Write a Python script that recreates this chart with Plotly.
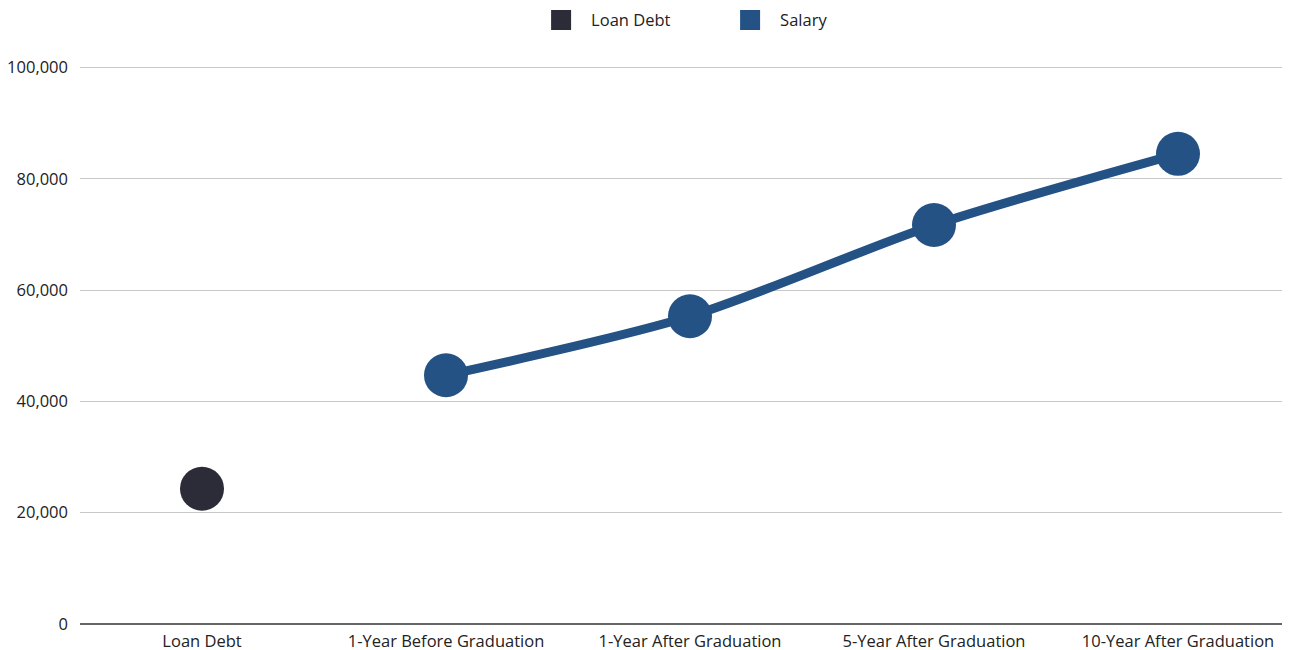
import plotly.graph_objects as go

categories = ["Loan Debt", "1-Year Before Graduation", "1-Year After Graduation",
              "5-Year After Graduation", "10-Year After Graduation"]
loan_debt = [24300, None, None, None, None]
salary = [None, 44700, 55300, 71700, 84500]

DEBT_COLOR = "#2b2c38"
SALARY_COLOR = "#245284"

fig = go.Figure()

fig.add_trace(go.Scatter(
    x=categories, y=loan_debt, name="Loan Debt", mode="markers",
    marker=dict(color=DEBT_COLOR, size=44), showlegend=False, cliponaxis=False
))
fig.add_trace(go.Scatter(
    x=categories, y=salary, name="Salary", mode="lines+markers",
    line=dict(color=SALARY_COLOR, width=9, shape="spline", smoothing=0.8),
    marker=dict(color=SALARY_COLOR, size=44), showlegend=False, cliponaxis=False
))

# legend-only entries with square swatches
for name, color in [("Loan Debt", DEBT_COLOR), ("Salary", SALARY_COLOR)]:
    fig.add_trace(go.Scatter(
        x=[None], y=[None], name=name, mode="markers",
        marker=dict(color=color, symbol="square", size=16,
                    line=dict(color=color, width=4))
    ))

fig.update_layout(
    width=1282, height=642,
    margin=dict(l=72, r=0, t=54.4, b=26),
    paper_bgcolor="white", plot_bgcolor="white",
    font=dict(family="Open Sans", size=16.5, color="#222222"),
    legend=dict(orientation="h", x=0.529, xanchor="center",
                yref="container", y=0.981, yanchor="middle",
                entrywidth=124, entrywidthmode="pixels", itemsizing="trace",
                itemwidth=50, font=dict(size=16.5)),
    xaxis=dict(range=[-0.5, 4.459], showgrid=False, showline=False, zeroline=False,
               ticks="", automargin=False, ticklabelstandoff=5),
    yaxis=dict(range=[0, 101000], tickvals=[0, 20000, 40000, 60000, 80000, 100000],
               tickformat=",", showgrid=True,
               gridcolor="#c8c8c8", gridwidth=1, zeroline=True, zerolinecolor="#666666",
               zerolinewidth=1.5, showline=False, ticks="", ticklabelstandoff=11,
               automargin=False),
)

fig.write_html("out.html")
